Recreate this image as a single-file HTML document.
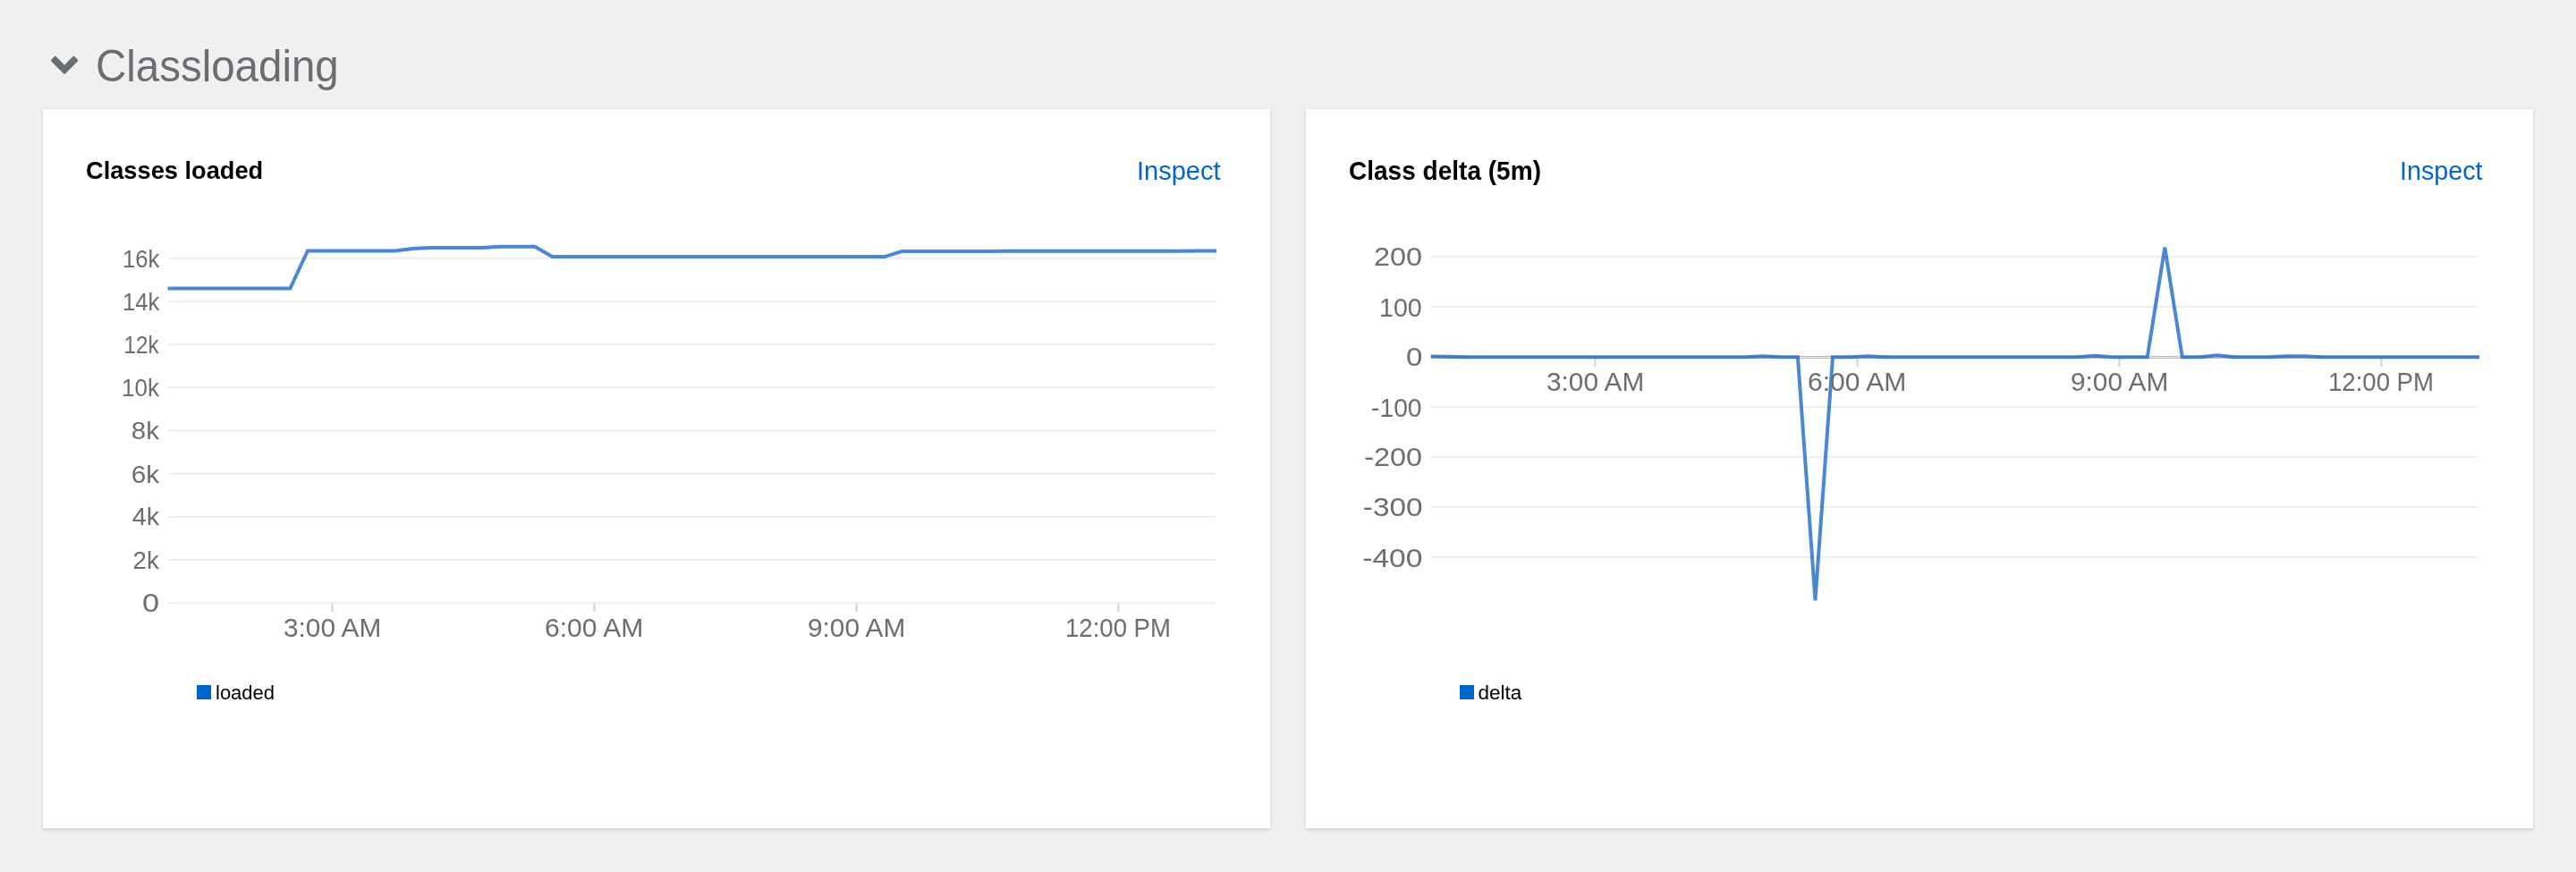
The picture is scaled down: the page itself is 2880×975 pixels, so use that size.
<!DOCTYPE html>
<html><head><meta charset="utf-8"><title>Classloading</title>
<style>
html,body{margin:0;padding:0;}
body{width:2880px;height:975px;overflow:hidden;background:#f0f0f0;position:relative;font-family:"Liberation Sans",sans-serif;}
.card{position:absolute;top:122px;width:1372px;height:804px;background:#fff;box-shadow:0 2px 4px 0 rgba(3,3,3,.12),0 0 4px 0 rgba(3,3,3,.06);}
svg{position:absolute;left:0;top:0;will-change:transform;}
text{font-family:"Liberation Sans",sans-serif;}
.ax{fill:#6a6e73;}
.h1{fill:#6a6e73;}
.ct{font-weight:bold;fill:#000;}
.lk{fill:#0066cc;}
.lg{fill:#000;}
</style></head>
<body>
<div class="card" style="left:48px"></div>
<div class="card" style="left:1460px"></div>
<svg width="2880" height="975" viewBox="0 0 2880 975">
<rect x="188" y="673.2" width="1171" height="2" fill="#ececec"/>
<rect x="188" y="625.01" width="1171" height="2" fill="#ececec"/>
<rect x="188" y="576.82" width="1171" height="2" fill="#ececec"/>
<rect x="188" y="528.63" width="1171" height="2" fill="#ececec"/>
<rect x="188" y="480.44" width="1171" height="2" fill="#ececec"/>
<rect x="188" y="432.25" width="1171" height="2" fill="#ececec"/>
<rect x="188" y="384.06" width="1171" height="2" fill="#ececec"/>
<rect x="188" y="335.87" width="1171" height="2" fill="#ececec"/>
<rect x="188" y="287.68" width="1171" height="2" fill="#ececec"/>
<rect x="370.4" y="675" width="2" height="9" fill="#d2d2d2"/>
<rect x="663.5" y="675" width="2" height="9" fill="#d2d2d2"/>
<rect x="956.5" y="675" width="2" height="9" fill="#d2d2d2"/>
<rect x="1249.4" y="675" width="2" height="9" fill="#d2d2d2"/>
<rect x="1600" y="622.32" width="1171" height="2" fill="#ececec"/>
<rect x="1600" y="566.29" width="1171" height="2" fill="#ececec"/>
<rect x="1600" y="510.26" width="1171" height="2" fill="#ececec"/>
<rect x="1600" y="454.23" width="1171" height="2" fill="#ececec"/>
<rect x="1600" y="398" width="1171" height="1" fill="#b8b8b8"/>
<rect x="1600" y="399" width="1171" height="1" fill="#ebebeb"/>
<rect x="1600" y="400" width="1171" height="1" fill="#b8b8b8"/>
<rect x="1600" y="342.17" width="1171" height="2" fill="#ececec"/>
<rect x="1600" y="286.14" width="1171" height="2" fill="#ececec"/>
<rect x="1782.4" y="401" width="2" height="9" fill="#d2d2d2"/>
<rect x="2075.5" y="401" width="2" height="9" fill="#d2d2d2"/>
<rect x="2368.5" y="401" width="2" height="9" fill="#d2d2d2"/>
<rect x="2661.4" y="401" width="2" height="9" fill="#d2d2d2"/>
<path d="M187.6,322.5 L207.14,322.5 L226.68,322.5 L246.22,322.5 L265.76,322.5 L285.3,322.5 L304.84,322.5 L324.38,322.5 L343.92,280.4 L363.46,280.4 L383,280.4 L402.54,280.4 L422.08,280.4 L441.62,280.4 L461.16,278 L480.7,277.1 L500.24,277.1 L519.78,277.1 L539.32,277.1 L558.86,275.7 L578.4,275.7 L597.94,275.7 L617.48,287.1 L637.02,287.1 L656.56,287.1 L676.1,287.1 L695.64,287.1 L715.18,287.1 L734.72,287.1 L754.26,287.1 L773.8,287.1 L793.34,287.1 L812.88,287.1 L832.42,287.1 L851.96,287.1 L871.5,287.1 L891.04,287.1 L910.58,287.1 L930.12,287.1 L949.66,287.1 L969.2,287.1 L988.74,287.1 L1008.28,281 L1027.82,280.98 L1047.36,280.96 L1066.9,280.93 L1086.44,280.91 L1105.98,280.89 L1125.52,280.87 L1145.06,280.84 L1164.6,280.82 L1184.14,280.8 L1203.68,280.78 L1223.22,280.76 L1242.76,280.73 L1262.3,280.71 L1281.84,280.69 L1301.38,280.67 L1320.92,280.64 L1340.46,280.62 L1360,280.6" fill="none" stroke="#105fc4" stroke-opacity="0.75" stroke-width="4"/>
<path d="M1599.6,398.4 L1619.14,398.8 L1638.68,399.2 L1658.22,399.2 L1677.76,399.2 L1697.3,399.2 L1716.84,399.2 L1736.38,399.2 L1755.92,399.2 L1775.46,399.2 L1795,399.2 L1814.54,399.2 L1834.08,399.2 L1853.62,399.2 L1873.16,399.2 L1892.7,399.2 L1912.24,399.2 L1931.78,399.2 L1951.32,399.2 L1970.86,398.3 L1990.4,399.2 L2009.94,399.2 L2029.48,671.3 L2049.02,399.2 L2068.56,399.2 L2088.1,398.2 L2107.64,399.2 L2127.18,399.2 L2146.72,399.2 L2166.26,399.2 L2185.8,399.2 L2205.34,399.2 L2224.88,399.2 L2244.42,399.2 L2263.96,399.2 L2283.5,399.2 L2303.04,399.2 L2322.58,399.2 L2342.12,397.8 L2361.66,399.2 L2381.2,399.2 L2400.74,399.2 L2420.28,276.6 L2439.82,399.2 L2459.36,399.2 L2478.9,397.2 L2498.44,399.2 L2517.98,399.2 L2537.52,399.2 L2557.06,398.3 L2576.6,398.3 L2596.14,399.2 L2615.68,399.2 L2635.22,399.2 L2654.76,399.2 L2674.3,399.2 L2693.84,399.2 L2713.38,399.2 L2732.92,399.2 L2752.46,399.2 L2772,399.2" fill="none" stroke="#105fc4" stroke-opacity="0.75" stroke-width="4"/>
<path d="M58.50,67.60 L61.70,64.40 L72.10,74.80 L82.50,64.40 L85.70,67.60 L72.10,81.20 Z" fill="#6a6e73" stroke="#6a6e73" stroke-width="3.0" stroke-linejoin="round"/>
<rect x="220" y="766" width="16" height="16" fill="#0066cc"/>
<rect x="1632" y="766" width="16" height="16" fill="#0066cc"/>
<text id="h1" class="h1" x="107" y="91.4" style="font-size:50.34px" textLength="271.77" lengthAdjust="spacingAndGlyphs">Classloading</text>
<text id="t1" class="ct" x="96" y="200.48" style="font-size:28.41px" textLength="198.2" lengthAdjust="spacingAndGlyphs">Classes loaded</text>
<text id="t2" class="ct" x="1508" y="201.4" style="font-size:28.75px" textLength="214.97" lengthAdjust="spacingAndGlyphs">Class delta (5m)</text>
<text id="i1" class="lk" x="1271" y="201.4" style="font-size:29px" textLength="93.56" lengthAdjust="spacingAndGlyphs">Inspect</text>
<text id="i2" class="lk" x="2683" y="201.4" style="font-size:29px" textLength="92.49" lengthAdjust="spacingAndGlyphs">Inspect</text>
<text id="lg1" class="lg" x="241" y="782" style="font-size:22px" textLength="66.08" lengthAdjust="spacingAndGlyphs">loaded</text>
<text id="lg2" class="lg" x="1652.5" y="782" style="font-size:22px" textLength="48.75" lengthAdjust="spacingAndGlyphs">delta</text>
<text id="ly16" class="ax" x="137" y="298.55" style="font-size:27.39px" textLength="41.28" lengthAdjust="spacingAndGlyphs">16k</text>
<text id="ly14" class="ax" x="137" y="346.96" style="font-size:27.39px" textLength="41.28" lengthAdjust="spacingAndGlyphs">14k</text>
<text id="ly12" class="ax" x="138.5" y="394.58" style="font-size:27.39px" textLength="38.96" lengthAdjust="spacingAndGlyphs">12k</text>
<text id="ly10" class="ax" x="136.1" y="442.99" style="font-size:27.39px" textLength="41.92" lengthAdjust="spacingAndGlyphs">10k</text>
<text id="ly8" class="ax" x="146.8" y="491.4" style="font-size:27.39px" textLength="31.09" lengthAdjust="spacingAndGlyphs">8k</text>
<text id="ly6" class="ax" x="146.7" y="539.82" style="font-size:27.39px" textLength="31.44" lengthAdjust="spacingAndGlyphs">6k</text>
<text id="ly4" class="ax" x="147.7" y="587.43" style="font-size:27.39px" textLength="30.39" lengthAdjust="spacingAndGlyphs">4k</text>
<text id="ly2" class="ax" x="148.5" y="635.85" style="font-size:27.39px" textLength="29.21" lengthAdjust="spacingAndGlyphs">2k</text>
<text id="ly0" class="ax" x="159.1" y="684.26" style="font-size:29.26px" textLength="19.11" lengthAdjust="spacingAndGlyphs">0</text>
<text id="ry200" class="ax" x="1536" y="297.4" style="font-size:29.26px" textLength="54.08" lengthAdjust="spacingAndGlyphs">200</text>
<text id="ry100" class="ax" x="1542" y="353.72" style="font-size:29.26px" textLength="47.76" lengthAdjust="spacingAndGlyphs">100</text>
<text id="ry0" class="ax" x="1572" y="409.24" style="font-size:29.26px" textLength="18.36" lengthAdjust="spacingAndGlyphs">0</text>
<text id="ry-100" class="ax" x="1533" y="465.56" style="font-size:29.26px" textLength="56.58" lengthAdjust="spacingAndGlyphs">-100</text>
<text id="ry-200" class="ax" x="1525.3" y="521.08" style="font-size:29.26px" textLength="64.67" lengthAdjust="spacingAndGlyphs">-200</text>
<text id="ry-300" class="ax" x="1523.8" y="577.39" style="font-size:29.26px" textLength="66.78" lengthAdjust="spacingAndGlyphs">-300</text>
<text id="ry-400" class="ax" x="1523.2" y="633.71" style="font-size:29.26px" textLength="67.31" lengthAdjust="spacingAndGlyphs">-400</text>
<text id="xl0" class="ax" x="317" y="712" style="font-size:29.5px" textLength="109.27" lengthAdjust="spacingAndGlyphs">3:00 AM</text>
<text id="xl0r" class="ax" x="1729" y="437.3" style="font-size:29.5px" textLength="109.27" lengthAdjust="spacingAndGlyphs">3:00 AM</text>
<text id="xl1" class="ax" x="609" y="712" style="font-size:29.5px" textLength="110.31" lengthAdjust="spacingAndGlyphs">6:00 AM</text>
<text id="xl1r" class="ax" x="2021" y="437.3" style="font-size:29.5px" textLength="110.31" lengthAdjust="spacingAndGlyphs">6:00 AM</text>
<text id="xl2" class="ax" x="903" y="712" style="font-size:29.5px" textLength="109.27" lengthAdjust="spacingAndGlyphs">9:00 AM</text>
<text id="xl2r" class="ax" x="2315" y="437.3" style="font-size:29.5px" textLength="109.27" lengthAdjust="spacingAndGlyphs">9:00 AM</text>
<text id="xl3" class="ax" x="1191" y="712" style="font-size:29.5px" textLength="117.95" lengthAdjust="spacingAndGlyphs">12:00 PM</text>
<text id="xl3r" class="ax" x="2603" y="437.3" style="font-size:29.5px" textLength="117.95" lengthAdjust="spacingAndGlyphs">12:00 PM</text>
</svg>
</body></html>
